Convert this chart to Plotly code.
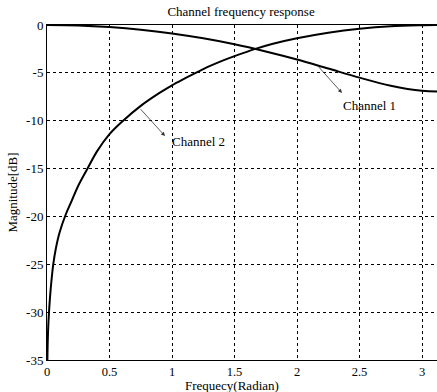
import plotly.graph_objects as go

# ---- data ----
ch1_w = [0.0, 0.25, 0.5, 0.75, 1.0, 1.25, 1.5, 1.75, 2.0, 2.25, 2.5, 2.75, 3.0, 3.1416]
ch1_db = [0.0, -0.05, -0.22, -0.49, -0.88, -1.39, -2.01, -2.76, -3.6, -4.55, -5.5, -6.34, -6.88, -6.96]

ch2_w = [0.003, 0.006, 0.01, 0.016, 0.025, 0.035, 0.05, 0.07, 0.1, 0.15, 0.2, 0.25, 0.32, 0.4,
         0.5, 0.6, 0.75, 0.9, 1.0, 1.1, 1.25, 1.4, 1.5, 1.68, 1.8, 2.0, 2.25, 2.5, 2.75, 3.0, 3.1416]
ch2_db = [-35.0, -33.0, -31.5, -30.0, -28.3, -26.8, -25.0, -23.4, -21.7, -19.8, -18.3, -16.8, -15.1, -13.2,
          -11.4, -10.1, -8.45, -7.1, -6.3, -5.6, -4.6, -3.75, -3.25, -2.44, -1.98, -1.38, -0.8, -0.38, -0.12, -0.02, 0.0]

x_ticks = [0, 0.5, 1, 1.5, 2, 2.5, 3]
x_tick_text = ["0", "0.5", "1", "1.5", "2", "2.5", "3"]
y_ticks = [0, -5, -10, -15, -20, -25, -30, -35]
y_tick_text = ["0", "-5", "-10", "-15", "-20", "-25", "-30", "-35"]

FONT = "Liberation Serif, Times New Roman, serif"
FS = 13

fig = go.Figure()
fig.add_trace(go.Scatter(x=ch1_w, y=ch1_db, mode="lines", line=dict(color="black", width=2),
                         line_shape="spline", name="Channel 1", showlegend=False, hoverinfo="skip"))
fig.add_trace(go.Scatter(x=ch2_w, y=ch2_db, mode="lines", line=dict(color="black", width=2),
                         line_shape="spline", name="Channel 2", showlegend=False, hoverinfo="skip"))

# annotation arrows and labels
fig.add_annotation(x=2.36, y=-7.1, ax=2.16, ay=-4.18, axref="x", ayref="y", xref="x", yref="y",
                   text="", showarrow=True, arrowhead=2, arrowsize=1, arrowwidth=0.8, arrowcolor="#333")
fig.add_annotation(x=2.576, y=-8.36, xref="x", yref="y", text="Channel 1", showarrow=False,
                   font=dict(family=FONT, size=FS, color="black"))
fig.add_annotation(x=0.944, y=-11.6, ax=0.738, ay=-8.64, axref="x", ayref="y", xref="x", yref="y",
                   text="", showarrow=True, arrowhead=2, arrowsize=1, arrowwidth=0.8, arrowcolor="#333")
fig.add_annotation(x=1.208, y=-12.19, xref="x", yref="y", text="Channel 2", showarrow=False,
                   font=dict(family=FONT, size=FS, color="black"))
# x-axis title placed as in the reference
fig.add_annotation(x=(232 - 47) / 390, y=-(385 - 360) / 335, xref="paper", yref="paper",
                   text="Frequecy(Radian)", showarrow=False, xanchor="center", yanchor="middle",
                   font=dict(family=FONT, size=FS, color="black"))

fig.update_layout(
    width=437, height=392,
    margin=dict(l=47, r=0, t=25, b=32, pad=0),
    paper_bgcolor="white", plot_bgcolor="white",
    font=dict(family=FONT, size=FS, color="black"),
    title=dict(text="Channel frequency response", x=0.4975, xref="paper", xanchor="center",
               y=1 - 11.5 / 392, yref="container", yanchor="middle",
               font=dict(family=FONT, size=FS, color="black")),
    showlegend=False,
)
fig.update_xaxes(range=[0, 3.12], tickvals=x_ticks, ticktext=x_tick_text,
                 showline=True, linecolor="black", linewidth=1, mirror=True,
                 showgrid=True, gridcolor="black", gridwidth=1, griddash="3px,3px",
                 zeroline=False, ticks="", tickfont=dict(family=FONT, size=12.5))
fig.update_yaxes(range=[-35, 0], tickvals=y_ticks, ticktext=y_tick_text,
                 showline=True, linecolor="black", linewidth=1, mirror=False,
                 showgrid=True, gridcolor="black", gridwidth=1, griddash="3px,3px",
                 zeroline=False, ticks="", tickfont=dict(family=FONT, size=FS),
                 title=dict(text="Magnitude[dB]", standoff=5, font=dict(family=FONT, size=FS)))

fig.write_html("out.html", config={"displayModeBar": False},
               post_script="document.body.style.margin='0';document.body.style.padding='0';")
